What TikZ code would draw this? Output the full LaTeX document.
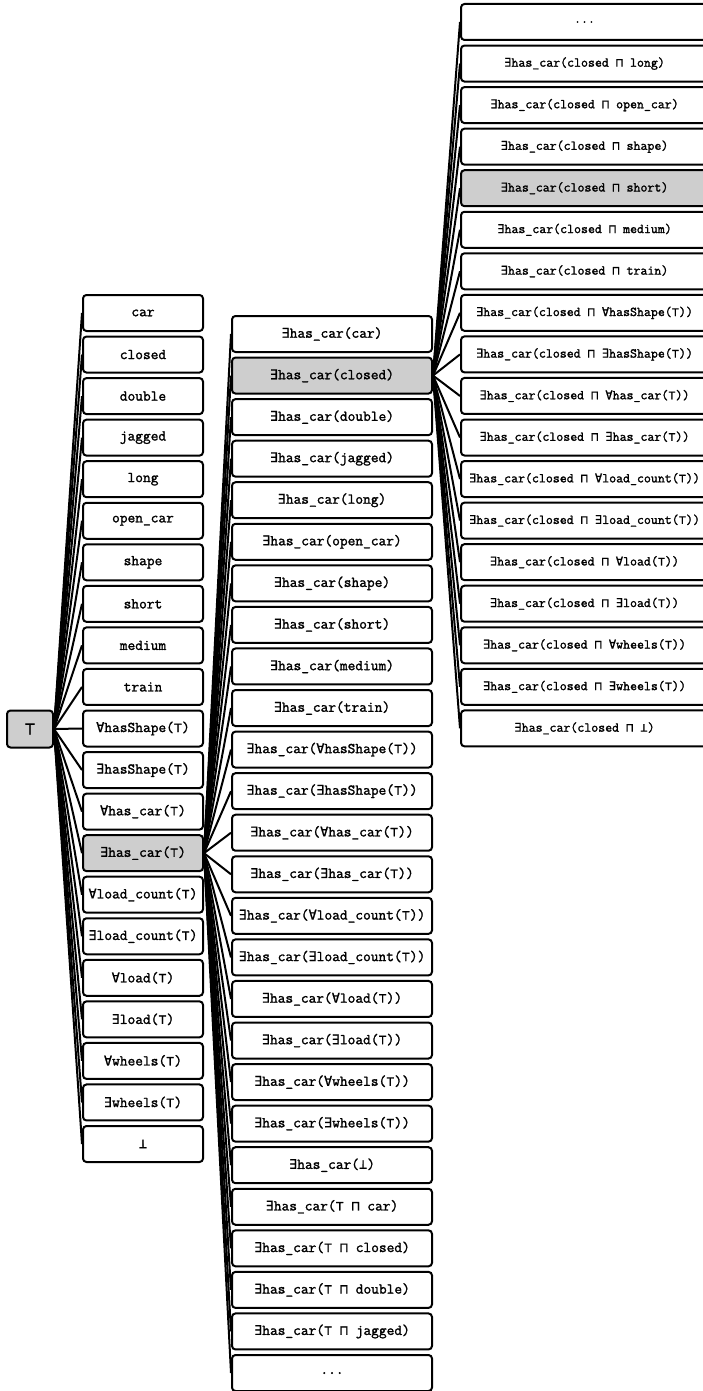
\documentclass[tikz,border=0pt]{standalone}
\usepackage{fontspec}
\newfontfamily\courf{Latin Modern Mono}[FakeBold=1.6]
\newfontfamily\symf{DejaVu Sans Mono}[Scale=0.9,FakeBold=0.8]
\usetikzlibrary{backgrounds}
\newcommand\xE{{\symf ∃}}
\newcommand\xA{{\symf ∀}}
\newcommand\xM{{\symf ⊓}}
\newcommand\xT{{\symf ⊤}}
\newcommand\xB{{\symf ⊥}}
\newcommand\xD{.{}.{}.}
\definecolor{gr}{RGB}{206,206,206}
\tikzset{
  cbox/.style={draw=black, line width=2pt, rounded corners=3.5pt, minimum height=36pt, inner sep=0pt, anchor=center},
  lbox/.style={cbox, minimum width=120pt, font=\fontsize{15}{17}\selectfont\courf},
  mbox/.style={cbox, minimum width=200pt, font=\fontsize{15}{17}\selectfont\courf},
  rbox/.style={cbox, minimum width=247pt, font=\fontsize{13.5}{15}\selectfont\courf},
  edge/.style={draw=black, line width=2pt}
}
\begin{document}
\begin{tikzpicture}[x=1pt,y=-1pt]
\useasboundingbox (0,0) rectangle (702,1391);
% root
\node[cbox, fill=gr, minimum width=46pt, minimum height=37pt, font=\fontsize{20}{22}\selectfont] (top) at (30,729) {\xT};
% left column
\foreach \t [count=\i] in {car,closed,double,jagged,long,open\_car,shape,short,medium,train,
  \xA hasShape(\xT),\xE hasShape(\xT),\xA has\_car(\xT),\xE has\_car(\xT),\xA load\_count(\xT),
  \xE load\_count(\xT),\xA load(\xT),\xE load(\xT),\xA wheels(\xT),\xE wheels(\xT),\xB}{
  \ifnum\i=14 \def\f{gr}\else\def\f{white}\fi
  \node[lbox, fill=\f] (l\i) at (143,{313+(\i-1)*41.55}) {\t};
}
% middle column
\foreach \t [count=\i] in {\xE has\_car(car),\xE has\_car(closed),\xE has\_car(double),\xE has\_car(jagged),
  \xE has\_car(long),\xE has\_car(open\_car),\xE has\_car(shape),\xE has\_car(short),\xE has\_car(medium),
  \xE has\_car(train),\xE has\_car(\xA hasShape(\xT)),\xE has\_car(\xE hasShape(\xT)),
  \xE has\_car(\xA has\_car(\xT)),\xE has\_car(\xE has\_car(\xT)),\xE has\_car(\xA load\_count(\xT)),
  \xE has\_car(\xE load\_count(\xT)),\xE has\_car(\xA load(\xT)),\xE has\_car(\xE load(\xT)),
  \xE has\_car(\xA wheels(\xT)),\xE has\_car(\xE wheels(\xT)),\xE has\_car(\xB),
  \xE has\_car(\xT{} \xM{} car),\xE has\_car(\xT{} \xM{} closed),\xE has\_car(\xT{} \xM{} double),
  \xE has\_car(\xT{} \xM{} jagged),\xD}{
  \ifnum\i=2 \def\f{gr}\else\def\f{white}\fi
  \node[mbox, fill=\f] (m\i) at (332,{334+(\i-1)*41.56}) {\t};
}
% right column
\foreach \t [count=\i] in {\xD,\xE has\_car(closed \xM{} long),\xE has\_car(closed \xM{} open\_car),
  \xE has\_car(closed \xM{} shape),\xE has\_car(closed \xM{} short),\xE has\_car(closed \xM{} medium),
  \xE has\_car(closed \xM{} train),\xE has\_car(closed \xM{} \xA hasShape(\xT)),
  \xE has\_car(closed \xM{} \xE hasShape(\xT)),\xE has\_car(closed \xM{} \xA has\_car(\xT)),
  \xE has\_car(closed \xM{} \xE has\_car(\xT)),\xE has\_car(closed \xM{} \xA load\_count(\xT)),
  \xE has\_car(closed \xM{} \xE load\_count(\xT)),\xE has\_car(closed \xM{} \xA load(\xT)),
  \xE has\_car(closed \xM{} \xE load(\xT)),\xE has\_car(closed \xM{} \xA wheels(\xT)),
  \xE has\_car(closed \xM{} \xE wheels(\xT)),\xE has\_car(closed \xM{} \xB)}{
  \ifnum\i=5 \def\f{gr}\else\def\f{white}\fi
  \node[rbox, fill=\f] (r\i) at (584.5,{22+(\i-1)*41.55}) {\t};
}
\begin{scope}[on background layer]
\foreach \i in {1,...,21} \draw[edge] (top.east) -- (l\i.west);
\foreach \i in {1,...,26} \draw[edge] (l14.east) -- (m\i.west);
\foreach \i in {1,...,18} \draw[edge] (m2.east) -- (r\i.west);
\end{scope}
\end{tikzpicture}
\end{document}
